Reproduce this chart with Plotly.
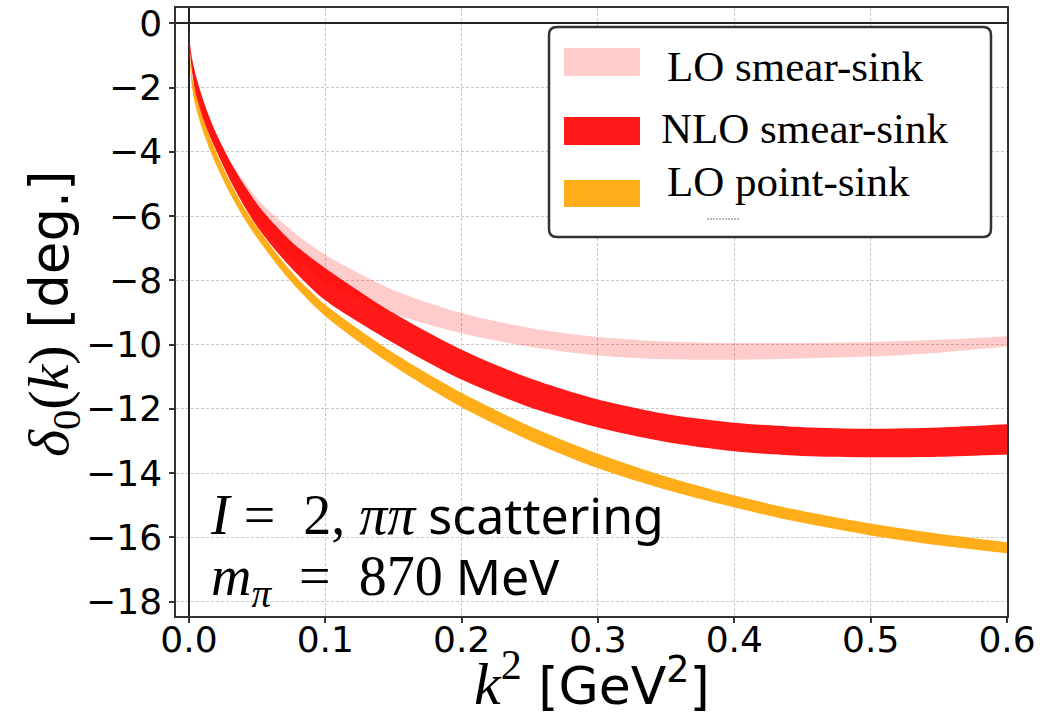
import plotly.graph_objects as go

# ---------------- data ----------------
k2 = [0, 0.001, 0.0025, 0.005, 0.01, 0.015, 0.02, 0.03, 0.04, 0.05, 0.06, 0.07, 0.08,
      0.1, 0.15, 0.2, 0.25, 0.3, 0.35, 0.4, 0.45, 0.5, 0.55, 0.6]

lo_smear_upper = [0, -0.72, -1.14, -1.61, -2.33, -2.92, -3.43, -4.25, -4.90, -5.45, -5.88, -6.25, -6.60,
                  -7.20, -8.30, -9.02, -9.48, -9.76, -9.90, -9.95, -9.95, -9.92, -9.85, -9.74]
lo_smear_lower = [0, -0.90, -1.40, -2.00, -2.80, -3.40, -3.90, -4.80, -5.55, -6.20, -6.70, -7.10, -7.45,
                  -8.05, -9.03, -9.65, -10.07, -10.34, -10.46, -10.47, -10.43, -10.37, -10.25, -10.06]

nlo_smear_upper = [0, -0.72, -1.14, -1.61, -2.33, -2.92, -3.43, -4.28, -4.99, -5.62, -6.13, -6.58, -6.98,
                   -7.62, -9.02, -10.16, -11.05, -11.71, -12.16, -12.43, -12.57, -12.62, -12.58, -12.48]
nlo_smear_lower = [0, -1.00, -1.58, -2.19, -2.92, -3.48, -3.96, -4.87, -5.65, -6.32, -6.88, -7.38, -7.83,
                   -8.62, -9.95, -11.09, -11.95, -12.58, -13.03, -13.32, -13.47, -13.51, -13.49, -13.42]

lo_point_upper = [0, -1.10, -1.70, -2.15, -2.90, -3.50, -4.00, -4.92, -5.70, -6.35, -6.93, -7.47, -7.96,
                  -8.76, -10.26, -11.50, -12.54, -13.40, -14.11, -14.70, -15.18, -15.57, -15.89, -16.15]
lo_point_lower = [0, -1.40, -2.08, -2.60, -3.33, -3.90, -4.41, -5.29, -6.04, -6.68, -7.26, -7.80, -8.28,
                  -9.12, -10.67, -11.95, -12.99, -13.85, -14.52, -15.07, -15.55, -15.94, -16.25, -16.50]

series_names = ["LO smear-sink", "NLO smear-sink", "LO point-sink"]
series_colors = ["rgba(255,0,0,0.2)", "rgba(255,0,0,0.9)", "rgba(255,165,0,0.9)"]

x_ticks = [0.0, 0.1, 0.2, 0.3, 0.4, 0.5, 0.6]
y_ticks = [-18, -16, -14, -12, -10, -8, -6, -4, -2, 0]

# ---------------- layout geometry ----------------
W, H = 1063, 717
L, R, T, B = 176, 56, 8, 101
PW, PH = W - L - R, H - T - B


def px(x):
    return (x - L) / PW


def py(y):
    return 1 - (y - T) / PH


fig = go.Figure()

bands = [
    (0, lo_smear_lower, lo_smear_upper),
    (2, lo_point_lower, lo_point_upper),
    (1, nlo_smear_lower, nlo_smear_upper),
]
for i, lo, up in bands:
    fig.add_trace(go.Scatter(
        x=k2, y=lo, mode="lines", line=dict(width=0, shape="spline", smoothing=0.8),
        showlegend=False, hoverinfo="skip",
    ))
    fig.add_trace(go.Scatter(
        x=k2, y=up, mode="lines", line=dict(width=0, shape="spline", smoothing=0.8),
        fill="tonexty", fillcolor=series_colors[i],
        name=series_names[i], showlegend=False, hoverinfo="skip",
    ))

axis_common = dict(
    showline=True, mirror=True, linecolor="#333", linewidth=1.5,
    ticks="outside", ticklen=5, tickwidth=1.5, tickcolor="#333",
    tickfont=dict(family="DejaVu Sans", size=36, color="black"),
    showgrid=True, gridcolor="#c8c8c8", gridwidth=1, griddash="3px,2px",
    zeroline=True, zerolinecolor="#222", zerolinewidth=2,
    automargin=False,
)

fig.update_xaxes(range=[-0.0095, 0.6], tickvals=x_ticks, tickformat=".1f",
                 ticklabelstandoff=-14, **axis_common)
fig.update_yaxes(range=[-18.45, 0.48], tickvals=y_ticks, **axis_common)

serif = "font-family:Liberation Serif;font-size:56px"
sans = "font-family:Noto Sans;font-size:50px"
sp = "&nbsp;"
info_text = (
    f"<span style='{serif}'><i>I</i>{sp}={sp}{sp}2,{sp}<i>ππ</i></span>"
    f"<span style='{sans}'> scattering</span><br>"
    f"<span style='{serif}'><i>m</i><sub><i>π</i></sub>{sp}{sp}={sp}{sp}870</span>"
    f"<span style='{sans}'> MeV</span>"
)
annotations = [
    # axis titles
    dict(text=f"<span style='font-family:Liberation Serif;font-size:58px'><i>δ</i><sub>0</sub>(<i>k</i>)</span> [deg.]",
         x=px(52), y=py(314), textangle=-90, font=dict(family="DejaVu Sans", size=53, color="black")),
    dict(text=f"<span style='font-family:Liberation Serif;font-size:60px'><i>k</i><sup>2</sup></span>{sp}[GeV<sup>2</sup>]",
         x=px(592), y=py(679), font=dict(family="DejaVu Sans", size=52, color="black")),
    # in-plot label (two lines)
    dict(text=info_text, x=px(208), y=py(548), xanchor="left", align="left",
         font=dict(family="Noto Sans", size=47, color="black")),
]
for a in annotations:
    a.setdefault("xanchor", "center")
    a.setdefault("yanchor", "middle")
    a.update(xref="paper", yref="paper", showarrow=False)

# legend (drawn manually to match the wide swatches)
lx0, lx1, ly0, ly1, r = 549, 991, 27, 237, 8
rx, ry = r / PW, r / PH
X0, X1, Y0, Y1 = px(lx0), px(lx1), py(ly1), py(ly0)
path = (f"M {X0+rx},{Y1} L {X1-rx},{Y1} Q {X1},{Y1} {X1},{Y1-ry} L {X1},{Y0+ry} "
        f"Q {X1},{Y0} {X1-rx},{Y0} L {X0+rx},{Y0} Q {X0},{Y0} {X0},{Y0+ry} "
        f"L {X0},{Y1-ry} Q {X0},{Y1} {X0+rx},{Y1} Z")
shapes = [dict(type="path", path=path, xref="paper", yref="paper",
               fillcolor="white", line=dict(color="#333", width=2.5), layer="above")]

swatch_y = [(48, 76), (117, 145), (180, 207)]
text_pos = [(665, 67), (659, 128), (665, 182)]
for i, name in enumerate(series_names):
    y_a, y_b = swatch_y[i]
    shapes.append(dict(type="rect", xref="paper", yref="paper",
                       x0=px(564), x1=px(640), y0=py(y_b), y1=py(y_a),
                       fillcolor=series_colors[i], line=dict(width=0), layer="above"))
    tx, ty = text_pos[i]
    annotations.append(dict(text=name, x=px(tx), y=py(ty), xref="paper", yref="paper",
                            xanchor="left", yanchor="middle", showarrow=False,
                            font=dict(family="Liberation Serif", size=43, color="black")))

shapes.append(dict(type="line", xref="paper", yref="paper",
                   x0=px(707), x1=px(740), y0=py(219), y1=py(219),
                   line=dict(color="#777", width=1, dash="2px,1px"), layer="above"))

fig.update_layout(
    width=W, height=H,
    margin=dict(l=L, r=R, t=T, b=B, pad=0),
    paper_bgcolor="white", plot_bgcolor="white",
    showlegend=False,
    annotations=annotations,
    shapes=shapes,
)

fig.write_html("out.html")
